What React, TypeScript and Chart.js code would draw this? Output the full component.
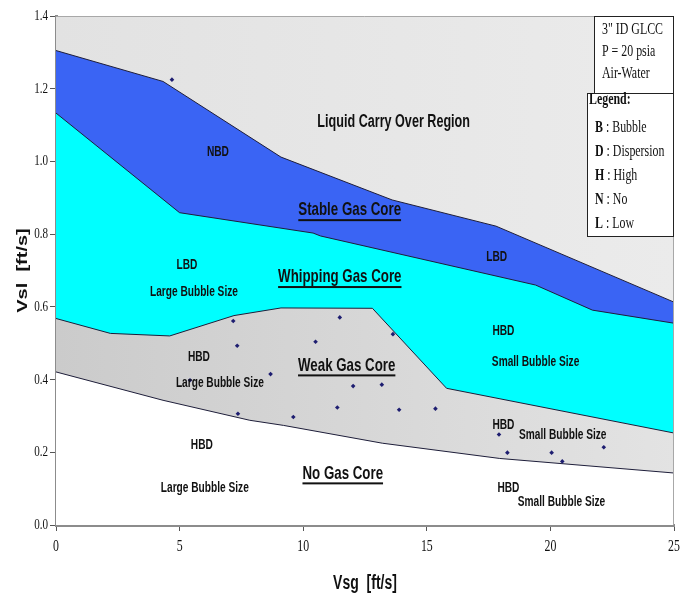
import React, { useEffect, useRef } from "react";
import { Chart, registerables } from "chart.js";

Chart.register(...registerables);

// ---------- data ----------
const xTickValues = [0, 5, 10, 15, 20, 25];
const yTickValues = [0, 0.2, 0.4, 0.6, 0.8, 1.0, 1.2, 1.4];

// boundary: No Gas Core (below) / Weak Gas Core (above)
const noCoreVsg = [0, 4.33, 7.84, 9.2, 13.2, 17.95, 25];
const noCoreVsl = [0.421, 0.343, 0.288, 0.274, 0.225, 0.183, 0.143];
// boundary: Weak Gas Core / Whipping Gas Core
const weakVsg = [0, 2.2, 4.6, 7.2, 9.1, 12.8, 15.8, 25];
const weakVsl = [0.568, 0.527, 0.52, 0.576, 0.597, 0.596, 0.376, 0.253];
// boundary: Whipping Gas Core / Stable Gas Core
const whipVsg = [0, 5.0, 10.4, 10.7, 19.4, 21.7, 25];
const whipVsl = [1.133, 0.859, 0.803, 0.795, 0.66, 0.591, 0.555];
// boundary: Stable Gas Core / Liquid Carry Over
const stableVsg = [0, 4.33, 9.1, 13.6, 17.8, 25];
const stableVsl = [1.305, 1.22, 1.012, 0.894, 0.822, 0.613];

// experimental points
const expVsg = [4.69, 7.17, 7.33, 5.42, 7.36, 8.68, 9.6, 10.5, 11.48, 12.02, 13.18, 13.63, 11.38, 13.88, 15.35, 17.92, 18.26, 20.05, 20.48, 22.16];
const expVsl = [1.225, 0.561, 0.493, 0.398, 0.306, 0.415, 0.297, 0.504, 0.571, 0.382, 0.386, 0.525, 0.323, 0.317, 0.32, 0.249, 0.199, 0.199, 0.175, 0.214];

// region titles (underlined) and sub labels, anchored in data coordinates
const regionTitles = ["Stable Gas Core", "Whipping Gas Core", "Weak Gas Core", "No Gas Core"];
const regionTitleVsg = [11.88, 11.48, 11.76, 11.6];
const regionTitleVsl = [0.866, 0.682, 0.439, 0.142];

const carryOverTitle = "Liquid Carry Over Region";
const carryOverVsg = 13.66;
const carryOverVsl = 1.109;

const subLabels = ["NBD", "LBD", "Large Bubble Size", "HBD", "Large Bubble Size", "HBD", "Large Bubble Size", "LBD", "HBD", "Small Bubble Size", "HBD", "Small Bubble Size", "HBD", "Small Bubble Size"];
const subLabelVsg = [6.55, 5.3, 5.58, 5.78, 6.63, 5.9, 6.02, 17.83, 18.1, 19.4, 18.1, 20.5, 18.3, 20.45];
const subLabelVsl = [1.026, 0.715, 0.64, 0.461, 0.39, 0.219, 0.103, 0.737, 0.533, 0.448, 0.274, 0.247, 0.103, 0.062];

const infoLines = ['3" ID GLCC', "P = 20 psia", "Air-Water"];
const legendTitle = "Legend:";
const legendKeys = ["B", "D", "H", "N", "L"];
const legendNames = ["Bubble", "Dispersion", "High", "No", "Low"];

const xTitle = "Vsg  [ft/s]";
const yTitle = "Vsl  [ft/s]";

// ---------- helpers ----------
const SANS = '"Liberation Sans", Arial, sans-serif';
const SERIF = '"Liberation Serif", "Times New Roman", serif';
const SX = 0.7;

const toXY = (xs: number[], ys: number[]) => xs.map((x, i) => ({ x, y: ys[i] }));

function txt(ctx: CanvasRenderingContext2D, s: string, x: number, y: number, font: string, align: "left" | "center" | "right", sx = SX) {
  ctx.save();
  ctx.font = font;
  ctx.textBaseline = "middle";
  ctx.textAlign = "left";
  const w = ctx.measureText(s).width * sx;
  const left = align === "center" ? x - w / 2 : align === "right" ? x - w : x;
  ctx.translate(left, y);
  ctx.scale(sx, 1);
  ctx.fillText(s, 0, 0);
  ctx.restore();
  return { left, w };
}

const bgPlugin = {
  id: "bgPlugin",
  beforeDatasetsDraw(chart: any) {
    const { ctx, chartArea: a } = chart;
    const g = ctx.createLinearGradient(a.left, 0, a.right, 0);
    g.addColorStop(0, "#e2e2e2");
    g.addColorStop(1, "#ebebeb");
    ctx.save();
    ctx.fillStyle = g;
    ctx.fillRect(a.left, a.top, a.right - a.left, a.bottom - a.top);
    ctx.restore();
  },
  afterDatasetsDraw(chart: any) {
    const { ctx, chartArea: a, scales } = chart;
    const xs = scales.x;
    const ys = scales.y;
    ctx.save();
    ctx.strokeStyle = "#a8a8a8";
    ctx.lineWidth = 1;
    ctx.beginPath();
    ctx.moveTo(a.left, a.top + 0.5);
    ctx.lineTo(a.right - 0.5, a.top + 0.5);
    ctx.lineTo(a.right - 0.5, a.bottom);
    ctx.stroke();

    ctx.fillStyle = "#111111";
    txt(ctx, carryOverTitle, xs.getPixelForValue(carryOverVsg), ys.getPixelForValue(carryOverVsl), `bold 18px ${SANS}`, "center");
    regionTitles.forEach((t, i) => {
      const cx = xs.getPixelForValue(regionTitleVsg[i]);
      const cy = ys.getPixelForValue(regionTitleVsl[i]);
      const r = txt(ctx, t, cx, cy, `bold 19px ${SANS}`, "center");
      ctx.fillRect(r.left, cy + 9, r.w, 2);
    });
    subLabels.forEach((t, i) => {
      txt(ctx, t, xs.getPixelForValue(subLabelVsg[i]), ys.getPixelForValue(subLabelVsl[i]), `bold 14.5px ${SANS}`, "center");
    });
    ctx.restore();
  },
  afterDraw(chart: any) {
    const { ctx, chartArea: a, scales } = chart;
    const xs = scales.x;
    const ys = scales.y;
    ctx.save();
    ctx.fillStyle = "#111111";
    ys.ticks.forEach((t: any) => {
      txt(ctx, Number(t.value).toFixed(1), a.left - 8, ys.getPixelForValue(t.value), `15px ${SERIF}`, "right", 0.74);
    });
    xs.ticks.forEach((t: any) => {
      txt(ctx, String(t.value), xs.getPixelForValue(t.value), a.bottom + 22, `16px ${SERIF}`, "center", 0.74);
    });
    txt(ctx, xTitle, (a.left + a.right) / 2, a.bottom + 58, `bold 20px ${SANS}`, "center");
    ctx.save();
    ctx.translate(23, (a.top + a.bottom) / 2);
    ctx.rotate(-Math.PI / 2);
    ctx.scale(1, SX);
    ctx.font = `bold 20px ${SANS}`;
    ctx.textAlign = "center";
    ctx.textBaseline = "middle";
    ctx.fillText(yTitle, 0, 0);
    ctx.restore();

    const b1x = a.right - 80, b1y = a.top, b1w = 80, b1h = 77;
    const b2x = a.right - 87, b2y = a.top + 77, b2w = 87, b2h = 144;
    ctx.fillStyle = "#ffffff";
    ctx.fillRect(b1x, b1y, b1w, b1h);
    ctx.fillRect(b2x, b2y, b2w, b2h);
    ctx.strokeStyle = "#222222";
    ctx.lineWidth = 1;
    ctx.strokeRect(b1x + 0.5, b1y + 0.5, b1w - 1, b1h);
    ctx.strokeRect(b2x + 0.5, b2y + 0.5, b2w - 1, b2h - 1);
    ctx.fillStyle = "#111111";
    infoLines.forEach((s, i) => {
      txt(ctx, s, b1x + 8, b1y + 14 + i * 22, `17px ${SERIF}`, "left");
    });
    txt(ctx, legendTitle, b2x + 2, b2y + 7, `bold 17px ${SERIF}`, "left");
    legendKeys.forEach((k, i) => {
      const y = b2y + 35 + i * 23.8;
      const r = txt(ctx, k, b2x + 8, y, `bold 17px ${SERIF}`, "left");
      txt(ctx, " : " + legendNames[i], r.left + r.w, y, `17px ${SERIF}`, "left");
    });
    ctx.restore();
  },
};

export default function App() {
  const ref = useRef<HTMLCanvasElement | null>(null);

  useEffect(() => {
    if (!ref.current) return;
    const lineStyle = {
      type: "line" as const,
      showLine: true,
      fill: "origin",
      borderColor: "#1e1e3a",
      borderWidth: 1,
      pointRadius: 0,
      pointHoverRadius: 0,
      tension: 0,
    };
    const chart = new Chart(ref.current, {
      type: "scatter",
      data: {
        datasets: [
          {
            type: "scatter",
            data: toXY(expVsg, expVsl),
            pointStyle: "rectRot",
            pointRadius: 2.3,
            backgroundColor: "#1d1d70",
            borderColor: "#1d1d70",
            borderWidth: 0,
            order: 0,
          } as any,
          { ...lineStyle, data: toXY(noCoreVsg, noCoreVsl), backgroundColor: "#ffffff", order: 1 } as any,
          {
            ...lineStyle,
            data: toXY(weakVsg, weakVsl),
            backgroundColor: (c: any) => {
              const area = c.chart.chartArea;
              if (!area) return "#d6d6d6";
              const g = c.chart.ctx.createLinearGradient(area.left, 0, area.right, 0);
              g.addColorStop(0, "#cbcbcb");
              g.addColorStop(1, "#e3e3e3");
              return g;
            },
            order: 2,
          } as any,
          { ...lineStyle, data: toXY(whipVsg, whipVsl), backgroundColor: "#00ffff", order: 3 } as any,
          { ...lineStyle, data: toXY(stableVsg, stableVsl), backgroundColor: "#3a64f4", order: 4 } as any,
        ],
      },
      options: {
        animation: false,
        responsive: false,
        devicePixelRatio: 1,
        layout: { padding: { top: 16, right: 11, left: 0, bottom: 0 } },
        plugins: { legend: { display: false }, tooltip: { enabled: false } },
        events: [],
        scales: {
          x: {
            type: "linear",
            min: 0,
            max: 25,
            z: 1,
            afterBuildTicks: (s: any) => {
              s.ticks = xTickValues.map((v) => ({ value: v }));
            },
            ticks: { display: false },
            grid: { display: true, drawOnChartArea: false, drawTicks: true, tickLength: 6, color: "#555555", lineWidth: 1 },
            border: { display: true, color: "#8c8c8c", width: 3 },
            afterFit: (s: any) => {
              s.height = 73;
            },
          },
          y: {
            type: "linear",
            min: 0,
            max: 1.4,
            z: 1,
            afterBuildTicks: (s: any) => {
              s.ticks = yTickValues.map((v) => ({ value: v }));
            },
            ticks: { display: false },
            grid: { display: true, drawOnChartArea: false, drawTicks: true, tickLength: 6, color: "#555555", lineWidth: 1 },
            border: { display: true, color: "#8c8c8c", width: 3 },
            afterFit: (s: any) => {
              s.width = 56;
            },
          },
        },
      } as any,
      plugins: [bgPlugin],
    });
    return () => chart.destroy();
  }, []);

  return (
    <div style={{ position: "fixed", left: 0, top: 0, width: 685, height: 598, background: "#ffffff" }}>
      <canvas ref={ref} width={685} height={598} style={{ display: "block", width: 685, height: 598 }} />
    </div>
  );
}
